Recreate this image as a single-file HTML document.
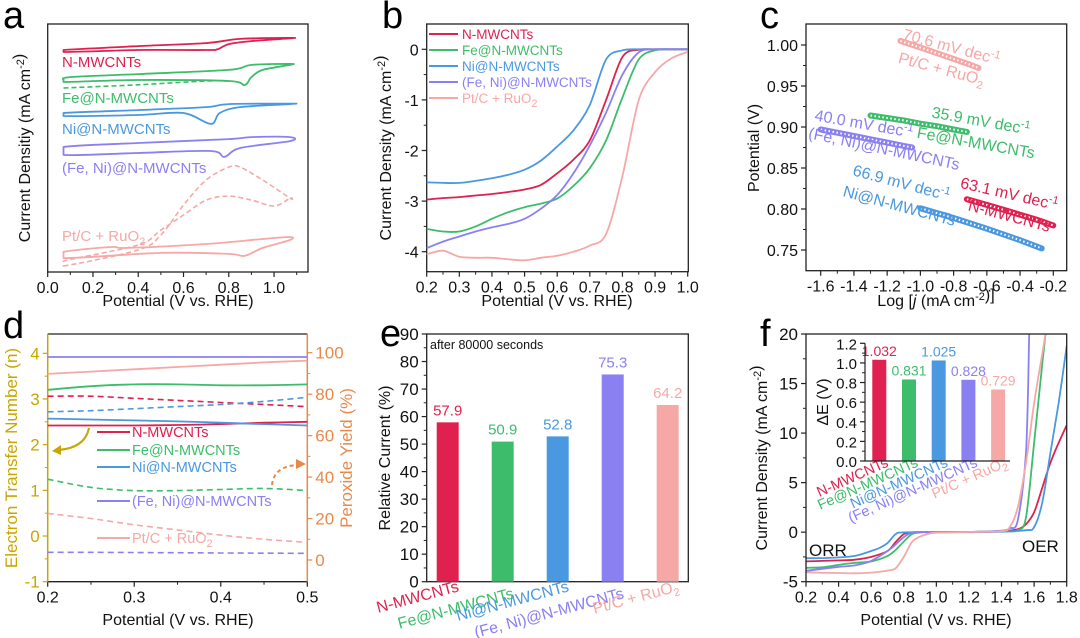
<!DOCTYPE html>
<html><head><meta charset="utf-8">
<style>
html,body{margin:0;padding:0;background:#fff;}
svg{display:block;font-family:"Liberation Sans","Noto Sans CJK SC",sans-serif;}
</style></head>
<body>
<svg id="fig" width="1080" height="638" viewBox="0 0 1080 638" xmlns="http://www.w3.org/2000/svg"></svg>
<script>
// ---------- DATA ----------
const seriesNames=['N-MWCNTs','Fe@N-MWCNTs','Ni@N-MWCNTs','(Fe, Ni)@N-MWCNTs','Pt/C + RuO2'];
const colors=['#e0204f','#3dbd6b','#4a98e0','#8a80f2','#f5a8a6'];
// panel a (CV)
const cvUpX=[[0.07,0.4,0.7,0.85,1.07],[0.07,0.1,0.4,0.8,0.9,1.07],[0.07,0.4,0.7,0.8,1.07],[0.07,0.4,0.8,0.9,1.07],[0.07,0.28,0.35,0.7,0.95,1.07]];
const cvUpY=[[-1.05,-0.89,-0.77,-0.6,-0.56],[-2.26,-2.14,-2.02,-1.85,-1.65,-1.61],[-3.59,-3.47,-3.35,-3.23,-3.21],[-4.96,-4.8,-4.64,-4.56,-4.56],[-9.19,-8.99,-9.03,-8.87,-8.67,-8.59]];
const cvLoX=[[0.07,0.4,0.7,0.75,0.8,0.9,1.07],[0.07,0.4,0.8,0.87,0.9,0.95,1.07],[0.07,0.4,0.6,0.72,0.76,0.85,1.07],[0.07,0.4,0.72,0.78,0.85,1.07],[0.07,0.5,0.8,0.87,0.95,1.07]];
const cvLoY=[[-1.13,-1.05,-1.05,-1.02,-0.81,-0.69,-0.58],[-2.34,-2.26,-2.3,-2.46,-2.14,-1.85,-1.65],[-3.71,-3.67,-3.59,-4.03,-3.59,-3.35,-3.23],[-5.28,-5.2,-5.12,-5.36,-5.0,-4.72],[-9.44,-9.23,-9.27,-9.35,-9.03,-8.71]];
const cvPtDashUpX=[0.07,0.4,0.5,0.6,0.7,0.8,0.85,0.95,1.07];
const cvPtDashUpY=[-9.76,-9.11,-8.51,-7.3,-6.29,-5.77,-5.77,-6.29,-7.02];
const cvPtDashLoX=[0.07,0.4,0.5,0.6,0.7,0.8,0.9,1.0,1.07];
const cvPtDashLoY=[-9.56,-8.91,-8.31,-7.7,-7.1,-6.94,-7.1,-7.34,-7.02];
const cvFeDashX=[0.07,0.4,0.7,0.8];
const cvFeDashY=[-2.58,-2.45,-2.3,-2.3];
// panel b (LSV)
const lsvX=[0.2,0.25,0.3,0.35,0.4,0.45,0.5,0.55,0.6,0.65,0.7,0.75,0.8,0.85,0.9,0.95,1.0];
const lsvN=[-2.97,-2.94,-2.92,-2.89,-2.86,-2.82,-2.77,-2.68,-2.45,-2.18,-1.8,-1.0,-0.15,-0.01,0,0,0];
const lsvFe=[-3.55,-3.6,-3.6,-3.5,-3.35,-3.22,-3.12,-3.05,-2.95,-2.7,-2.35,-1.8,-0.95,-0.2,-0.02,0,0];
const lsvNi=[-2.63,-2.64,-2.64,-2.6,-2.55,-2.48,-2.38,-2.2,-1.92,-1.6,-1.1,-0.2,-0.02,0,0,0,0];
const lsvFeNi=[-3.93,-3.8,-3.7,-3.6,-3.52,-3.45,-3.35,-3.15,-2.88,-2.45,-1.9,-1.25,-0.5,-0.06,0,0,0];
const lsvPt=[-4.05,-3.98,-4.1,-4.12,-4.12,-4.15,-4.17,-4.12,-4.08,-4.0,-3.88,-3.65,-2.5,-1.0,-0.45,-0.18,-0.05];
// panel c (Tafel)
const tafX=[[-0.72,-0.6,-0.5,-0.4,-0.3,-0.2],[-1.3,-1.2,-1.1,-1.0,-0.9,-0.8,-0.72],[-1.0,-0.8,-0.6,-0.4,-0.27],[-1.6,-1.5,-1.4,-1.3,-1.2,-1.1,-1.05],[-1.12,-1.0,-0.9,-0.8,-0.7,-0.65]];
const tafY=[[0.812,0.805,0.799,0.793,0.787,0.780],[0.914,0.911,0.908,0.904,0.901,0.897,0.894],[0.801,0.789,0.776,0.762,0.752],[0.897,0.893,0.889,0.885,0.881,0.877,0.875],[1.005,0.997,0.990,0.983,0.976,0.972]];
const tafSlopes=['63.1','35.9','66.9','40.0','70.6'];
// panel d (RRDE)
const rrdeX=[0.2,0.25,0.3,0.35,0.4,0.45,0.5];
const nVals=[[2.42,2.42,2.42,2.43,2.45,2.48,2.5],[3.2,3.28,3.32,3.32,3.3,3.3,3.32],[2.57,2.55,2.53,2.51,2.48,2.45,2.42],[3.92,3.92,3.92,3.92,3.92,3.92,3.92],[3.55,3.6,3.65,3.7,3.75,3.8,3.84]];
const h2o2Vals=[[79,79,78,77,76,75,74],[39,35,33.5,33.5,34,34.5,33.5],[71.5,72,73,74,75,76.5,78.5],[3.7,3.7,3.6,3.5,3.4,3.3,3.2],[22.5,20,17,14.5,12,10,8.5]];
// panel e (stability)
const stabVals=[57.9,50.9,52.8,75.3,64.2];
const stabLabels=['57.9','50.9','52.8','75.3','64.2'];
// panel f (bifunctional)
const bfX=[
 [0.2,0.3,0.4,0.5,0.6,0.7,0.75,0.8,0.85,0.9,1.0,1.2,1.4,1.5,1.55,1.6,1.65,1.7,1.75,1.8],
 [0.2,0.3,0.4,0.5,0.6,0.7,0.75,0.8,0.85,0.9,0.95,1.0,1.2,1.4,1.5,1.55,1.6,1.65,1.67],
 [0.2,0.3,0.4,0.5,0.6,0.65,0.7,0.75,0.8,1.0,1.2,1.4,1.55,1.6,1.65,1.7,1.75,1.8],
 [0.2,0.3,0.4,0.5,0.6,0.7,0.75,0.8,0.85,0.9,1.0,1.2,1.4,1.45,1.5,1.55,1.57],
 [0.2,0.3,0.4,0.5,0.6,0.7,0.75,0.8,0.85,0.9,0.95,1.0,1.2,1.4,1.45,1.5,1.55,1.6,1.65,1.67]];
const bfY=[
 [-2.95,-2.9,-2.85,-2.78,-2.5,-1.9,-1.0,-0.2,-0.02,0,0,0.02,0.1,0.3,0.8,2.0,4.5,7.0,9.0,10.8],
 [-3.6,-3.55,-3.3,-3.1,-2.95,-2.4,-1.8,-0.95,-0.2,-0.02,0,0,0.02,0.1,0.2,1.5,9,17,20],
 [-2.63,-2.62,-2.55,-2.4,-1.9,-1.6,-1.1,-0.2,-0.02,0,0,0.05,0.2,0.5,3,8,13,18.8],
 [-3.9,-3.7,-3.5,-3.35,-2.9,-1.9,-1.25,-0.5,-0.06,0,0,0.02,0.15,0.4,1.2,8,20],
 [-4.05,-4.1,-4.12,-4.15,-4.08,-3.88,-3.65,-2.5,-1.0,-0.45,-0.18,-0.05,0.02,0.1,0.5,2.5,7,13,18,20]];
const dEVals=[1.032,0.831,1.025,0.828,0.729];
const dELabels=['1.032','0.831','1.025','0.828','0.729'];

// ---------- HELPERS ----------
const NS='http://www.w3.org/2000/svg';
const svg=document.getElementById('fig');
function mk(tag,attrs,parent){const e=document.createElementNS(NS,tag);for(const k in attrs)e.setAttribute(k,attrs[k]);(parent||svg).appendChild(e);return e;}
function lin(d0,d1,r0,r1){return v=>r0+(v-d0)*(r1-r0)/(d1-d0);}
function pts(xs,ys,sx,sy){return xs.map((x,i)=>sx(x).toFixed(1)+','+sy(ys[i]).toFixed(1)).join(' ');}
function smooth(xs,ys,sx,sy,closed){
 const P=xs.map((x,i)=>[sx(x),sy(ys[i])]);const n=P.length;
 let d='M'+P[0][0].toFixed(1)+','+P[0][1].toFixed(1);
 for(let i=0;i<n-1;i++){
  const p0=P[i===0?(closed?n-1:0):i-1],p1=P[i],p2=P[i+1],p3=P[i+2<n?i+2:(closed?(i+2)%n:n-1)];
  const t=0.16;
  const c1=[p1[0]+(p2[0]-p0[0])*t,p1[1]+(p2[1]-p0[1])*t];
  const c2=[p2[0]-(p3[0]-p1[0])*t,p2[1]-(p3[1]-p1[1])*t];
  d+=` C${c1[0].toFixed(1)},${c1[1].toFixed(1)} ${c2[0].toFixed(1)},${c2[1].toFixed(1)} ${p2[0].toFixed(1)},${p2[1].toFixed(1)}`;
 }
 if(closed)d+='Z';
 return d;
}
function text(x,y,html,opts,parent){const e=mk('text',Object.assign({x:x,y:y,'font-size':14,'text-anchor':'middle',fill:'#111'},opts||{}),parent);e.innerHTML=html;return e;}
function frame(L,T,R,B){const r=mk('rect',{x:L,y:T,width:R-L,height:B-T,fill:'none',stroke:'#222','stroke-width':1.3});

return r;}
function xTicks(sc,vals,labels,y,minor,col){
 vals.forEach((v,i)=>{const t=mk('line',{x1:sc(v),x2:sc(v),y1:y,y2:y+5,stroke:col||'#222','stroke-width':1.2});
 
 
 if(labels){const l=text(sc(v),y+21,labels[i],{'font-size':16});
 
 }});
 (minor||[]).forEach(v=>{const t=mk('line',{x1:sc(v),x2:sc(v),y1:y,y2:y+3,stroke:col||'#222','stroke-width':1});
 
 });
}
function yTicks(sc,vals,labels,x,dir,minor,col,fs){
 vals.forEach((v,i)=>{const t=mk('line',{x1:x,x2:x+dir*5,y1:sc(v),y2:sc(v),stroke:col||'#222','stroke-width':1.2});
 
 
 if(labels){const l=text(x+dir*8,sc(v)+6,labels[i],{'font-size':fs||16,'text-anchor':dir<0?'end':'start',fill:col||'#111'});
 
 }});
 (minor||[]).forEach(v=>{const t=mk('line',{x1:x,x2:x+dir*3,y1:sc(v),y2:sc(v),stroke:col||'#222','stroke-width':1});
 
 });
}
function rng(a,b,s){const o=[];for(let v=a;v<=b+1e-9;v+=s)o.push(+v.toFixed(4));return o;}
function rtext(x,y,rot,html,opts){const e=mk('text',Object.assign({x:0,y:0,transform:`translate(${x},${y}) rotate(${rot})`,'font-size':15,'text-anchor':'middle',fill:'#111'},opts||{}));e.innerHTML=html;return e;}
const SUB2='<tspan font-size="11" dy="4">2</tspan>';
const SUP=s=>`<tspan font-size="11" dy="-6">${s}</tspan><tspan dy="6"></tspan>`;
const nameHtml=['N-MWCNTs','Fe@N-MWCNTs','Ni@N-MWCNTs','(Fe, Ni)@N-MWCNTs','Pt/C + RuO'+SUB2];
function letter(x,y,s){const e=text(x,y,s,{'font-size':38,'text-anchor':'start',fill:'#000'});

}

// ---------- PANEL A ----------
(function(){
 const sx=lin(0,1.15,47.7,308), sy=lin(-10,0,272,24);
 letter(3,28,'a');
 frame(47.7,24,308,272);
 xTicks(sx,rng(0,1,0.2),['0.0','0.2','0.4','0.6','0.8','1.0'],272,rng(0.1,1.1,0.2));
 for(let i=0;i<5;i++){
  const p=mk('path',{d:smooth(cvUpX[i].concat([...cvLoX[i]].reverse()),cvUpY[i].concat([...cvLoY[i]].reverse()),sx,sy,true),fill:'none',stroke:colors[i],'stroke-width':1.8,'stroke-linejoin':'round'});
  
  
 }
 const d1=mk('path',{d:smooth(cvPtDashUpX.concat([...cvPtDashLoX].reverse()),cvPtDashUpY.concat([...cvPtDashLoY].reverse()),sx,sy,true),fill:'none',stroke:colors[4],'stroke-width':1.6,'stroke-dasharray':'5,3'});
 
 
 const d2=mk('path',{d:smooth(cvFeDashX,cvFeDashY,sx,sy,false),fill:'none',stroke:colors[1],'stroke-width':1.6,'stroke-dasharray':'5,3'});
 
 
 const ly=[67,103,134,173,241];
 for(let i=0;i<5;i++){const t=text(62,ly[i],nameHtml[i],{'text-anchor':'start',fill:colors[i],'font-size':15});
  
  }
 const yt=rtext(30,148,-90,'Current Densitiy (mA cm'+SUP('-2')+')',{'font-size':16});
 
 
 const xt=text(178,306,'Potential (V vs. RHE)',{'font-size':16});
 
 
})();

// ---------- PANEL B ----------
(function(){
 const sx=lin(0.2,1.0,426.7,687.7), sy=lin(-4,0,251.7,49.3);
 letter(382,28,'b');
 frame(426.7,24,688.3,271.7);
 xTicks(sx,rng(0.2,1.0,0.1),['0.2','0.3','0.4','0.5','0.6','0.7','0.8','0.9','1.0'],271.7,rng(0.25,0.95,0.1));
 yTicks(sy,[0,-1,-2,-3,-4],['0','-1','-2','-3','-4'],426.7,-1,rng(-4.0,0,0.5).filter(v=>v%1!==0));
 const ser=[lsvN,lsvFe,lsvNi,lsvFeNi,lsvPt];
 for(let i=0;i<5;i++){const p=mk('path',{d:smooth(lsvX,ser[i],sx,sy,false),fill:'none',stroke:colors[i],'stroke-width':1.8});
  
  }
 for(let i=0;i<5;i++){const y=34+16*i;
  const l=mk('line',{x1:429,x2:458,y1:y,y2:y,stroke:colors[i],'stroke-width':2});
  
  
  const t=text(462,y+5,nameHtml[i],{'text-anchor':'start',fill:colors[i],'font-size':13.5});
  
  }
 const yt=rtext(391,148,-90,'Current Density (mA cm'+SUP('-2')+')',{'font-size':16});
 
 
 const xt=text(557,306,'Potential (V vs. RHE)',{'font-size':16});
 
 
})();

// ---------- PANEL C ----------
(function(){
 const sx=lin(-1.6,-0.2,820.7,1053.3), sy=lin(0.75,1.0,250,45);
 letter(760,28,'c');
 frame(806,24,1066.7,270.7);
 xTicks(sx,rng(-1.6,-0.2,0.2),['-1.6','-1.4','-1.2','-1.0','-0.8','-0.6','-0.4','-0.2'],270.7,rng(-1.5,-0.3,0.2));
 yTicks(sy,rng(0.75,1.0,0.05),['0.75','0.80','0.85','0.90','0.95','1.00'],806,-1,rng(0.775,0.975,0.05));
 for(let i=0;i<5;i++){
  const p=mk('polyline',{points:pts(tafX[i],tafY[i],sx,sy),fill:'none',stroke:colors[i],'stroke-width':6,'stroke-linecap':'round'});
  
  
  const q=mk('polyline',{points:pts(tafX[i],tafY[i],sx,sy),fill:'none',stroke:'#fff','stroke-width':2,'stroke-dasharray':'1.5,2.5'});
  
  
 }
 const lab=[[1008,199,13,0],[980,126,10,1],[900,188,15,2],[863,129,10,3],[950,52,15,4]];
 const nlab=[[1008,221,15,0],[975,148,10,1],[898,211,15,2],[883,154,12,3],[940,74,15,4]];
 lab.forEach(a=>{const t=rtext(a[0],a[1],a[2],tafSlopes[a[3]]+' mV dec'+SUP('-1'),{fill:colors[a[3]],'font-size':16});
  
  });
 nlab.forEach(a=>{const t=rtext(a[0],a[1],a[2],nameHtml[a[3]],{fill:colors[a[3]],'font-size':16});
  
  });
 const yt=rtext(759,148,-90,'Potential (V)',{'font-size':16});
 
 
 const xt=text(936,306,'Log [<tspan font-style="italic">j</tspan> (mA cm'+SUP('-2')+')]',{'font-size':16});
 
 
})();

// ---------- PANEL D ----------
(function(){
 const sx=lin(0.2,0.5,47.7,307.3), syL=lin(-1,4,581.7,353.3), syR=lin(0,100,560,352.7);
 const gold='#c9a500', orng='#e8894a';
 letter(3,338,'d');
 const top=mk('line',{x1:47.7,x2:307.3,y1:334,y2:334,stroke:'#222','stroke-width':1.3});
 
 
 const bot=mk('line',{x1:47.7,x2:307.3,y1:581.7,y2:581.7,stroke:'#222','stroke-width':1.3});
 
 
 const la=mk('line',{x1:47.7,x2:47.7,y1:334,y2:581.7,stroke:gold,'stroke-width':1.5});
 
 
 const ra=mk('line',{x1:307.3,x2:307.3,y1:334,y2:581.7,stroke:orng,'stroke-width':1.5});
 
 
 xTicks(sx,rng(0.2,0.5,0.1),['0.2','0.3','0.4','0.5'],581.7,rng(0.25,0.45,0.1));
 yTicks(syL,rng(-1,4,1),['-1','0','1','2','3','4'],47.7,-1,rng(-0.5,3.5,1),gold,17);
 yTicks(syR,rng(0,100,20),['0','20','40','60','80','100'],307.3,1,rng(10,90,20),orng,17);
 for(let i=0;i<5;i++){
  const p=mk('path',{d:smooth(rrdeX,nVals[i],sx,syL,false),fill:'none',stroke:colors[i],'stroke-width':1.8});
  
  
  const q=mk('path',{d:smooth(rrdeX,h2o2Vals[i],sx,syR,false),fill:'none',stroke:colors[i],'stroke-width':1.6,'stroke-dasharray':'6,4'});
  
  
 }
 const ly=[437,455,472,506,543];
 for(let i=0;i<5;i++){
  const l=mk('line',{x1:97,x2:130,y1:ly[i]-5,y2:ly[i]-5,stroke:colors[i],'stroke-width':2});
  
  
  const t=text(132,ly[i],nameHtml[i],{'text-anchor':'start',fill:colors[i],'font-size':14.5});
  
  
 }
 const a1=mk('path',{d:'M89,428 Q85,448 58,450',fill:'none',stroke:gold,'stroke-width':2});
 
 
 const a1h=mk('polygon',{points:'52,451 61,445 61,455',fill:gold});
 
 
 const a2=mk('path',{d:'M272,485 Q274,466 298,465',fill:'none',stroke:orng,'stroke-width':2,'stroke-dasharray':'4,3'});
 
 
 const a2h=mk('polygon',{points:'306,464 296,459 296,469',fill:orng});
 
 
 const yl=rtext(17,458,-90,'Electron Transfer Number (n)',{'font-size':17,fill:gold});
 
 
 const yr=rtext(352,458,-90,'Peroxide Yield (%)',{'font-size':17,fill:orng});
 
 
 const xt=text(178,625,'Potential (V vs. RHE)',{'font-size':16});
 
 
})();

// ---------- PANEL E ----------
(function(){
 const sy=lin(0,90,581.7,334), bx=i=>447.7+55*i;
 letter(380,346,'e');
 frame(426.7,334,688.3,581.7);
 yTicks(sy,rng(0,90,10),['0','10','20','30','40','50','60','70','80','90'],426.7,-1,rng(5,85,10),null,17);
 for(let i=0;i<5;i++){
  const b=mk('rect',{x:bx(i)-11,y:sy(stabVals[i]),width:22,height:sy(0)-sy(stabVals[i]),fill:colors[i]});
  
  
  const v=text(bx(i),sy(stabVals[i])-7,stabLabels[i],{fill:colors[i],'font-size':15});
  
  
  const yy=(i%2===1)?598:591;
  const l=rtext(bx(i)+12,yy,-15,nameHtml[i],{'text-anchor':'end',fill:colors[i],'font-size':16});
  
  
 }
 const n=text(430,349,'after 80000 seconds',{'text-anchor':'start','font-size':12.5});
 
 
 const yt=rtext(390,458,-90,'Relative Current (%)',{'font-size':16});
 
 
})();

// ---------- PANEL F ----------
(function(){
 const sx=lin(0.2,1.8,806,1066.7), sy=lin(-5,20,581.7,334);
 letter(760,346,'f');
 const clip=mk('clipPath',{id:'fclip'});
 
 
 mk('rect',{x:806,y:334,width:260.7,height:247.7},clip);
 for(let i=0;i<5;i++){const p=mk('path',{d:smooth(bfX[i],bfY[i],sx,sy,false),fill:'none',stroke:colors[i],'stroke-width':1.8,'clip-path':'url(#fclip)'});
  
  }
 frame(806,334,1066.7,581.7);
 xTicks(sx,rng(0.2,1.8,0.2),['0.2','0.4','0.6','0.8','1.0','1.2','1.4','1.6','1.8'],581.7,rng(0.3,1.7,0.2));
 yTicks(sy,rng(-5,20,5),['-5','0','5','10','15','20'],806,-1,rng(-2.5,17.5,5),null,17);
 const o1=text(809,556,'ORR',{'text-anchor':'start','font-size':17});
 
 
 const o2=text(1022,552,'OER',{'text-anchor':'start','font-size':17});
 
 
 // inset
 const iy=lin(0,1.2,461,343.3), ix=i=>879.3+29.7*i;
 for(let i=0;i<5;i++){
  const b=mk('rect',{x:ix(i)-7,y:iy(dEVals[i]),width:14,height:iy(0)-iy(dEVals[i]),fill:colors[i]});
  
  
  const v=text(ix(i),iy(dEVals[i])-4,dELabels[i],{fill:colors[i],'font-size':14});
  
  
  const l=rtext(ix(i)+10,466,-24,nameHtml[i],{'text-anchor':'end',fill:colors[i],'font-size':14.5});
  
  
 }
 const ia=mk('polyline',{points:'865,343.3 865,461 1010,461',fill:'none',stroke:'#222','stroke-width':1.2});
 
 
 yTicks(iy,rng(0,1.2,0.2),['0.0','0.2','0.4','0.6','0.8','1.0','1.2'],865,-1,rng(0.1,1.1,0.2),null,15);
 const it=rtext(828,402,-90,'ΔE (V)',{'font-size':16});
 
 
 const yt=rtext(767,458,-90,'Current Density (mA cm'+SUP('-2')+')',{'font-size':16});
 
 
 const xt=text(936,625,'Potential (V vs. RHE)',{'font-size':16});
 
 
})();
</script>
</body></html>
